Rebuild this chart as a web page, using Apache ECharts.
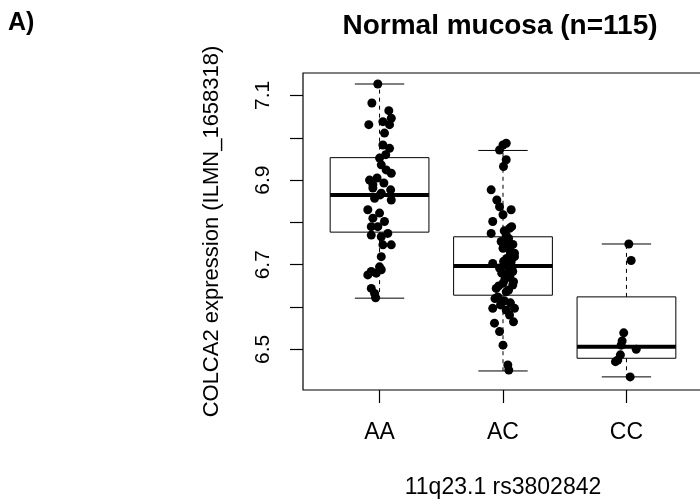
<!DOCTYPE html>
<html>
<head>
<meta charset="utf-8">
<script src="https://cdn.jsdelivr.net/npm/echarts@6/dist/echarts.min.js"></script>
<style>
  html, body { margin: 0; padding: 0; background: #fff; }
  #chart { width: 700px; height: 504px; }
</style>
</head>
<body>
<div id="chart"></div>
<script>
var categories = ['AA', 'AC', 'CC'];
var yTicks = [6.5, 6.6, 6.7, 6.8, 6.9, 7.0, 7.1];
var yLabels = [6.5, 6.7, 6.9, 7.1];

// [lower whisker, Q1, median, Q3, upper whisker]
var boxStats = [
    [6.621, 6.777, 6.865, 6.953, 7.127],
    [6.449, 6.628, 6.697, 6.766, 6.970],
    [6.435, 6.479, 6.506, 6.624, 6.749]
];

// [jitter offset, expression]
var aaPoints = [
    [-0.014, 7.127], [-0.062, 7.082], [0.075, 7.064], [-0.087, 7.031], [0.027, 7.038],
    [0.095, 7.046], [0.081, 7.031], [0.040, 7.011], [0.027, 6.983], [0.081, 6.975],
    [0.000, 6.952], [0.014, 6.936], [0.054, 6.924], [0.095, 6.916], [-0.081, 6.900],
    [-0.054, 6.889], [-0.054, 6.881], [0.014, 6.869], [0.095, 6.853], [-0.040, 6.857],
    [-0.095, 6.830], [0.000, 6.822], [-0.054, 6.810], [0.040, 6.802], [-0.067, 6.790],
    [-0.014, 6.790], [0.067, 6.774], [-0.067, 6.770], [0.014, 6.766], [0.027, 6.747],
    [0.095, 6.747], [0.014, 6.719], [0.000, 6.695], [-0.067, 6.684], [-0.095, 6.676],
    [-0.027, 6.680], [0.014, 6.688], [-0.067, 6.644], [-0.040, 6.632], [-0.032, 6.622],
    [0.050, 6.960], [-0.020, 6.905], [0.035, 6.893], [0.090, 6.877], [0.005, 6.865]
];
var acPoints = [
    [0.000, 6.983], [-0.028, 6.971], [0.026, 6.987], [0.026, 6.948], [0.004, 6.932],
    [-0.096, 6.877], [-0.050, 6.853], [-0.028, 6.837], [0.066, 6.830], [0.000, 6.818],
    [-0.083, 6.802], [0.053, 6.786], [-0.096, 6.774], [0.026, 6.770], [-0.015, 6.755],
    [0.039, 6.755], [0.053, 6.735], [0.093, 6.727], [0.000, 6.739], [-0.083, 6.703],
    [-0.028, 6.692], [0.066, 6.707], [0.093, 6.719], [0.026, 6.676], [0.079, 6.684],
    [0.000, 6.656], [0.079, 6.652], [-0.055, 6.644], [0.026, 6.636], [-0.042, 6.624],
    [-0.083, 6.597], [0.026, 6.593], [0.093, 6.597], [0.053, 6.581], [0.085, 6.565],
    [-0.069, 6.562], [-0.028, 6.542], [0.000, 6.510], [0.039, 6.463], [0.047, 6.451],
    [0.070, 6.790], [0.010, 6.780], [0.045, 6.762], [0.080, 6.748], [0.015, 6.742],
    [0.060, 6.725], [0.030, 6.715], [0.005, 6.708], [0.050, 6.700], [-0.065, 6.620],
    [0.010, 6.615], [0.060, 6.610], [-0.020, 6.605], [0.040, 6.694], [0.070, 6.690],
    [-0.010, 6.680], [0.055, 6.672], [0.015, 6.665], [0.085, 6.660], [-0.035, 6.650],
    [0.045, 6.640]
];
var ccPoints = [
    [0.019, 6.749], [0.038, 6.710], [-0.022, 6.539], [-0.035, 6.520], [-0.043, 6.510],
    [0.079, 6.500], [-0.049, 6.487], [-0.070, 6.475], [-0.089, 6.471], [0.030, 6.435]
];

var font = '"Liberation Sans", Arial, sans-serif';
var chart = echarts.init(document.getElementById('chart'));

var boxData = boxStats.map(function (s, i) {
    return [i + 1].concat(s);
});
var pointData = [];
[aaPoints, acPoints, ccPoints].forEach(function (pts, i) {
    pts.forEach(function (p) {
        pointData.push([i + 1 + p[0], p[1]]);
    });
});

function renderBox(params, api) {
    var x = api.value(0);
    var lo = api.coord([x, api.value(1)]);
    var q1 = api.coord([x, api.value(2)]);
    var med = api.coord([x, api.value(3)]);
    var q3 = api.coord([x, api.value(4)]);
    var hi = api.coord([x, api.value(5)]);
    var half = api.size([0.8, 0])[0] / 2;
    var staple = api.size([0.4, 0])[0] / 2;
    var cx = lo[0];
    var thin = { stroke: '#000', lineWidth: 1 };
    var dashed = { stroke: '#000', lineWidth: 1, lineDash: [4, 4] };
    return {
        type: 'group',
        children: [
            { type: 'line', shape: { x1: cx, y1: q3[1], x2: cx, y2: hi[1] }, style: dashed },
            { type: 'line', shape: { x1: cx, y1: q1[1], x2: cx, y2: lo[1] }, style: dashed },
            { type: 'line', shape: { x1: cx - staple, y1: hi[1], x2: cx + staple, y2: hi[1] }, style: thin },
            { type: 'line', shape: { x1: cx - staple, y1: lo[1], x2: cx + staple, y2: lo[1] }, style: thin },
            { type: 'rect', shape: { x: cx - half, y: q3[1], width: half * 2, height: q1[1] - q3[1] },
              style: { fill: '#fff', stroke: '#000', lineWidth: 1 } },
            { type: 'line', shape: { x1: cx - half, y1: med[1], x2: cx + half, y2: med[1] },
              style: { stroke: '#000', lineWidth: 4 } }
        ]
    };
}

var option = {
    animation: false,
    backgroundColor: '#fff',
    title: [
        {
            text: 'A)', left: 8, top: 11, padding: 0,
            textStyle: { fontFamily: font, fontSize: 25, fontWeight: 'bold', color: '#000' }
        },
        {
            text: 'Normal mucosa (n=115)', left: 500, top: 12, padding: 0, textAlign: 'center',
            textStyle: { fontFamily: font, fontSize: 28, fontWeight: 'bold', color: '#000' }
        }
    ],
    grid: {
        left: 303, top: 73, width: 400, height: 317,
        outerBoundsMode: 'none',
        show: true, borderColor: '#000', borderWidth: 1.2, backgroundColor: 'transparent'
    },
    xAxis: {
        type: 'value', min: 0.38, max: 3.62,
        name: '11q23.1 rs3802842', nameLocation: 'middle', nameGap: 86,
        nameTextStyle: { fontFamily: font, fontSize: 23, color: '#000' },
        axisLine: { show: false },
        splitLine: { show: false },
        axisTick: { show: true, inside: false, length: 13, customValues: [1, 2, 3],
                    lineStyle: { color: '#000', width: 1.2 } },
        axisLabel: {
            customValues: [1, 2, 3], margin: 31,
            fontFamily: font, fontSize: 23, color: '#000',
            formatter: function (v) { return categories[Math.round(v) - 1]; }
        }
    },
    yAxis: {
        type: 'value', min: 6.404, max: 7.153,
        name: 'COLCA2 expression (ILMN_1658318)', nameLocation: 'middle', nameGap: 80, nameRotate: 90,
        nameTextStyle: { fontFamily: font, fontSize: 22, color: '#000' },
        axisLine: { show: false },
        splitLine: { show: false },
        axisTick: { show: true, inside: false, length: 13, customValues: yTicks,
                    lineStyle: { color: '#000', width: 1.2 } },
        axisLabel: {
            customValues: yLabels, rotate: 90, margin: 29,
            fontFamily: font, fontSize: 21, color: '#000',
            formatter: function (v) { return v.toFixed(1); }
        }
    },
    series: [
        {
            type: 'custom',
            renderItem: renderBox,
            data: boxData,
            encode: { x: 0, y: [1, 2, 3, 4, 5] },
            z: 2
        },
        {
            type: 'scatter',
            data: pointData,
            symbol: 'circle',
            symbolSize: 9,
            itemStyle: { color: '#000', opacity: 1 },
            z: 3
        }
    ]
};

chart.setOption(option);
</script>
</body>
</html>
